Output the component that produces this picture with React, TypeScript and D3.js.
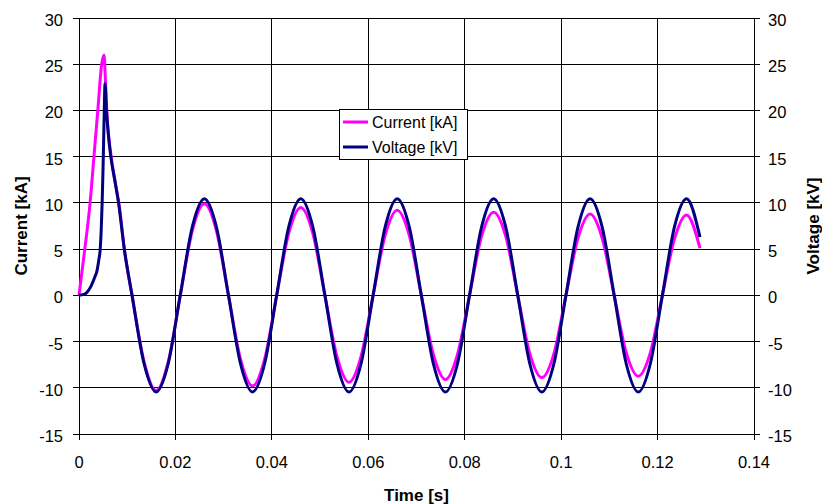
import * as d3 from 'd3'

// [time s, current kA]
const current: [number, number][] = [
  [0, 0], [0.0012, 5], [0.0023, 10], [0.0031, 15], [0.0039, 20], [0.0047, 25], [0.0052, 26],
  [0.0055, 23], [0.0058, 19.5], [0.0062, 17], [0.0068, 14.5], [0.0076, 12], [0.0084, 9.5],
  [0.0094, 5], [0.011, 0],
  [0.0135, -7.2], [0.016, -10.3], [0.0185, -7.2], [0.021, 0], [0.0235, 7.0], [0.026, 9.9],
  [0.0285, 7.0], [0.031, 0], [0.0335, -6.9], [0.036, -9.8], [0.0385, -6.9], [0.041, 0],
  [0.0435, 6.7], [0.046, 9.5], [0.0485, 6.7], [0.051, 0], [0.0535, -6.6], [0.056, -9.4],
  [0.0585, -6.6], [0.061, 0], [0.0635, 6.5], [0.066, 9.2], [0.0685, 6.5], [0.071, 0],
  [0.0735, -6.4], [0.076, -9.1], [0.0785, -6.4], [0.081, 0], [0.0835, 6.4], [0.086, 9.0],
  [0.0885, 6.4], [0.091, 0], [0.0935, -6.3], [0.096, -8.9], [0.0985, -6.3], [0.101, 0],
  [0.1035, 6.2], [0.106, 8.8], [0.1085, 6.2], [0.111, 0], [0.1135, -6.2], [0.116, -8.75],
  [0.1185, -6.2], [0.121, 0], [0.1235, 6.1], [0.126, 8.7], [0.1288, 5.1],
]

// [time s, voltage kV]
const voltage: [number, number][] = [
  [0, 0], [0.001, 0.1], [0.0016, 0.3], [0.0025, 1], [0.0033, 2], [0.0037, 2.6], [0.0041, 3.8],
  [0.0044, 5], [0.0046, 7], [0.0048, 10], [0.005, 14], [0.0052, 19], [0.0054, 22.9],
  [0.0057, 20], [0.006, 17.9], [0.0066, 15], [0.0074, 12.5], [0.0082, 10], [0.0094, 5],
  [0.011, 0], [0.0135, -7.4], [0.016, -10.45], [0.0185, -7.4], [0.021, 0], [0.0235, 7.4],
  [0.026, 10.45], [0.0285, 7.4], [0.031, 0], [0.0335, -7.4], [0.036, -10.45], [0.0385, -7.4],
  [0.041, 0], [0.0435, 7.4], [0.046, 10.45], [0.0485, 7.4], [0.051, 0], [0.0535, -7.4],
  [0.056, -10.45], [0.0585, -7.4], [0.061, 0], [0.0635, 7.4], [0.066, 10.45], [0.0685, 7.4],
  [0.071, 0], [0.0735, -7.4], [0.076, -10.45], [0.0785, -7.4], [0.081, 0], [0.0835, 7.4],
  [0.086, 10.45], [0.0885, 7.4], [0.091, 0], [0.0935, -7.4], [0.096, -10.45], [0.0985, -7.4],
  [0.101, 0], [0.1035, 7.4], [0.106, 10.45], [0.1085, 7.4], [0.111, 0], [0.1135, -7.4],
  [0.116, -10.45], [0.1185, -7.4], [0.121, 0], [0.1235, 7.4], [0.126, 10.45], [0.1288, 6.3],
]

const xTicks = [0, 0.02, 0.04, 0.06, 0.08, 0.1, 0.12, 0.14]
const yTicks = [-15, -10, -5, 0, 5, 10, 15, 20, 25, 30]

const series = [
  { label: 'Current [kA]', color: '#ff00ff', data: current },
  { label: 'Voltage [kV]', color: '#000080', data: voltage },
]

const W = 822, H = 504
const margin = { left: 79, right: 68, top: 18, bottom: 70 }
const font = '"Liberation Sans", Arial, sans-serif'

export default function App() {
  const x = d3.scaleLinear().domain([0, 0.14]).range([margin.left, W - margin.right])
  const y = d3.scaleLinear().domain([-15, 30]).range([H - margin.bottom, margin.top])
  const line = d3.line<[number, number]>()
    .x(d => x(d[0]))
    .y(d => y(d[1]))
    .curve(d3.curveMonotoneX)

  const x0 = x.range()[0], x1 = x.range()[1]
  const yb = y.range()[0], yt = y.range()[1]
  const cx = (x0 + x1) / 2, cy = (yb + yt) / 2

  return (
    <svg width={W} height={H} style={{ position: 'absolute', left: 0, top: 0, fontFamily: font }}>
      <rect x={0} y={0} width={W} height={H} fill="#fff" />
      {/* grid */}
      <g stroke="#000" strokeWidth={1} shapeRendering="crispEdges">
        {yTicks.map(t => <line key={'h' + t} x1={x0} x2={x1} y1={y(t)} y2={y(t)} />)}
        {xTicks.map(t => <line key={'v' + t} x1={x(t)} x2={x(t)} y1={yt} y2={yb} />)}
        {/* left ticks */}
        {yTicks.map(t => <line key={'lt' + t} x1={x0 - 6} x2={x0} y1={y(t)} y2={y(t)} />)}
        {/* right ticks (cross) */}
        {yTicks.map(t => <line key={'rt' + t} x1={x1 - 6} x2={x1 + 6} y1={y(t)} y2={y(t)} />)}
        {/* bottom ticks */}
        {xTicks.map(t => <line key={'bt' + t} x1={x(t)} x2={x(t)} y1={yb} y2={yb + 6} />)}
      </g>
      {/* tick labels */}
      <g fontSize={16.5} fill="#000">
        {yTicks.map(t => (
          <text key={'ll' + t} x={x0 - 16} y={y(t) + 8} textAnchor="end">{t}</text>
        ))}
        {yTicks.map(t => (
          <text key={'rl' + t} x={x1 + 14} y={y(t) + 8} textAnchor="start">{t}</text>
        ))}
        {xTicks.map(t => (
          <text key={'xl' + t} x={x(t)} y={yb + 34} textAnchor="middle">{t}</text>
        ))}
      </g>
      {/* series */}
      {series.map(s => (
        <path key={s.label} d={line(s.data) ?? ''} fill="none" stroke={s.color}
          strokeWidth={3} strokeLinejoin="round" />
      ))}
      {/* legend */}
      <g>
        <rect x={339.5} y={109.5} width={128} height={50} fill="#fff" stroke="#000" strokeWidth={1} />
        {series.map((s, i) => (
          <g key={'lg' + s.label}>
            <line x1={343} x2={368} y1={122 + i * 25} y2={122 + i * 25} stroke={s.color} strokeWidth={3} />
            <text x={372} y={128 + i * 25} fontSize={16}>{s.label}</text>
          </g>
        ))}
      </g>
      {/* axis titles */}
      <text x={cx} y={501} textAnchor="middle" fontSize={17} fontWeight="bold">Time [s]</text>
      <text transform={`translate(27,${cy}) rotate(-90)`} textAnchor="middle" fontSize={17} fontWeight="bold">Current [kA]</text>
      <text transform={`translate(819,${cy}) rotate(-90)`} textAnchor="middle" fontSize={17} fontWeight="bold">Voltage [kV]</text>
    </svg>
  )
}
